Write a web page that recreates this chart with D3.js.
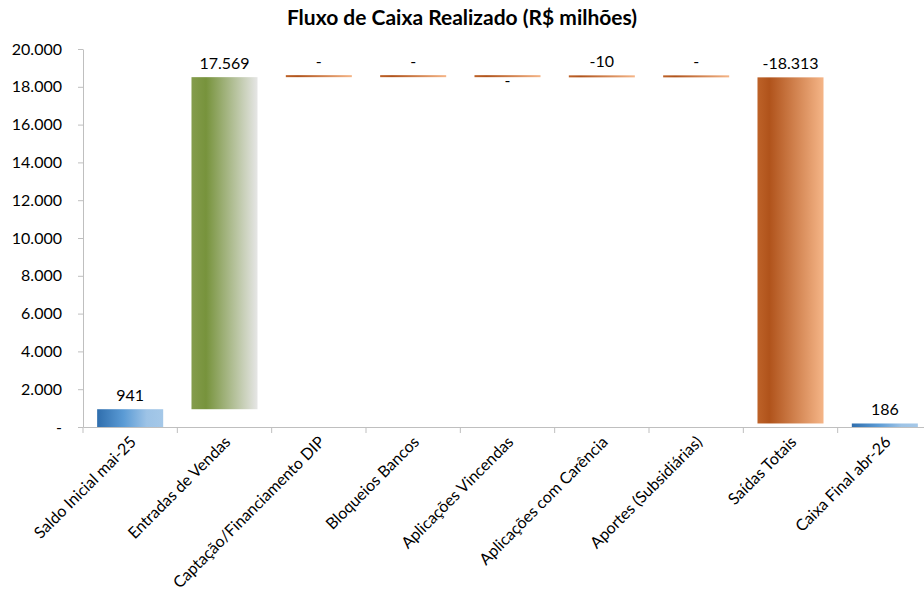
<!DOCTYPE html>
<html>
<head>
<meta charset="utf-8">
<script src="https://cdn.jsdelivr.net/npm/d3@7"></script>
<style>
body { margin: 0; background: #fff; }
text { font-family: Lato, "Open Sans", sans-serif; fill: #000; }
.axis path, .axis line { stroke: #bfbfbf; }
.axis text { font-size: 16px; }
.lbl { font-size: 16px; }
</style>
</head>
<body>
<div id="chart"></div>
<script>
// categories and values (R$ milhões)
var categories = ["Saldo Inicial mai-25","Entradas de Vendas","Captação/Financiamento DIP","Bloqueios Bancos",
  "Aplicações Vincendas","Aplicações com Carência","Aportes (Subsidiárias)","Saídas Totais","Caixa Final abr-26"];
var values = [941, 17569, 0, 0, -0.4, -10, 0, -18313, 186];
var kinds = ["total","up","down","down","down","down","down","down","total"];
var labels = ["941","17.569","-","-","-","-10","-","-18.313","186"];
var labelBelow = [false,false,false,false,true,false,false,false,false];
var yTicks = [0,2000,4000,6000,8000,10000,12000,14000,16000,18000,20000];

var W = 924, H = 599;
var svg = d3.select("#chart").append("svg").attr("width", W).attr("height", H);

var defs = svg.append("defs");
function grad(id, stops){
  var g = defs.append("linearGradient").attr("id", id).attr("x1","0%").attr("x2","100%").attr("y1","0%").attr("y2","0%");
  stops.forEach(function(s){ g.append("stop").attr("offset", s[0]).attr("stop-color", s[1]); });
}
grad("gBlue", [["0%","#2f6ead"],["40%","#5b9bd5"],["75%","#9dc3e6"],["100%","#a5c8e8"]]);
grad("gGreen", [["0%","#849c4c"],["22%","#77933c"],["100%","#e6e6e6"]]);
grad("gOrange", [["0%","#bd6228"],["18%","#b0531b"],["100%","#f5b587"]]);

var x = d3.scaleBand().domain(categories).range([83, 932]).paddingInner(0.3).paddingOuter(0.15);
var y = d3.scaleLinear().domain([0, 20000]).range([427, 49]);

// waterfall positions
var run = 0, bars = [];
values.forEach(function(v, i){
  var b0, b1;
  if (kinds[i] == "total") { b0 = 0; b1 = v; run = v; }
  else { b0 = run; b1 = run + v; run = b1; }
  bars.push({ i: i, lo: Math.min(b0, b1), hi: Math.max(b0, b1), kind: kinds[i] });
});

var yAxis = d3.axisLeft(y).tickValues(yTicks).tickSizeOuter(0).tickSizeInner(5).tickPadding(16)
  .tickFormat(function(d){ return d == 0 ? "-" : d3.format(",")(d).replace(/,/g, "."); });
svg.append("g").attr("class","y axis").attr("transform","translate(83,0)").call(yAxis);

var xAxis = d3.axisBottom(x).tickSizeOuter(0).tickSize(0).tickFormat("");
var xg = svg.append("g").attr("class","x axis").attr("transform","translate(0,427)").call(xAxis);
// tick marks between categories
var step = x.step();
xg.selectAll(".sep").data(d3.range(categories.length + 1)).enter().append("line")
  .attr("x1", function(d){ return 83 + d * step; }).attr("x2", function(d){ return 83 + d * step; })
  .attr("y1", 0).attr("y2", 6).attr("stroke", "#bfbfbf");

svg.selectAll(".xl").data(categories).enter().append("text")
  .attr("class","lbl")
  .attr("text-anchor","end")
  .attr("transform", function(d){ return "translate(" + (x(d) + x.bandwidth()/2 + 7) + ",443) rotate(-45)"; })
  .text(function(d){ return d; });

var fills = { total: "url(#gBlue)", up: "url(#gGreen)", down: "url(#gOrange)" };
svg.append("g").selectAll("rect").data(bars).enter().append("rect")
  .attr("x", function(d){ return x(categories[d.i]); })
  .attr("width", x.bandwidth())
  .attr("y", function(d){ return Math.min(y(d.hi), y(d.lo) - 2); })
  .attr("height", function(d){ return Math.max(2, y(d.lo) - y(d.hi)); })
  .attr("fill", function(d){ return fills[d.kind]; });

svg.append("g").selectAll("text").data(bars).enter().append("text")
  .attr("class","lbl")
  .attr("text-anchor","middle")
  .attr("x", function(d){ return x(categories[d.i]) + x.bandwidth()/2; })
  .attr("y", function(d){ return labelBelow[d.i] ? y(d.lo) + 9 : Math.min(y(d.hi), y(d.lo) - 2) - 8; })
  .text(function(d){ return labels[d.i]; });

svg.append("text").attr("x", 462).attr("y", 25).attr("text-anchor","middle")
  .attr("font-size", 21).attr("font-weight","bold").text("Fluxo de Caixa Realizado (R$ milhões)");
</script>
</body>
</html>
